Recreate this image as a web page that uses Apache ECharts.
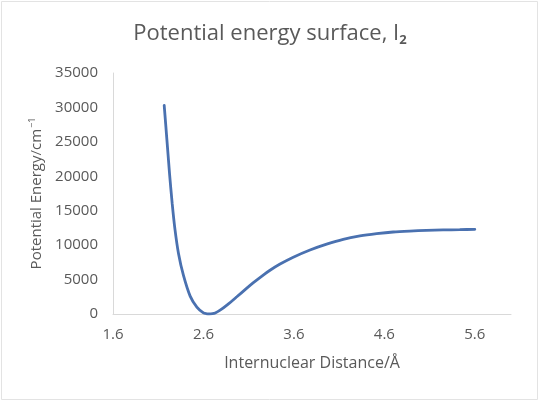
<!DOCTYPE html>
<html>
<head>
<meta charset="utf-8">
<script src="https://cdn.jsdelivr.net/npm/echarts@6/dist/echarts.min.js"></script>
<style>
html,body{margin:0;padding:0;background:#fff;}
#chart{width:540px;height:403px;}
</style>
</head>
<body>
<div id="chart"></div>
<script>
// Internuclear distance (Å)
var distance = [2.166, 2.196, 2.225, 2.254, 2.284, 2.324, 2.379, 2.453, 2.527, 2.6, 2.635, 2.666, 2.70, 2.73, 2.784, 2.87, 2.969, 3.07, 3.152, 3.25, 3.336, 3.447, 3.593, 3.778, 3.962, 4.145, 4.33, 4.514, 4.697, 4.88, 5.066, 5.249, 5.433, 5.6];
// Potential energy (cm^-1)
var energy = [30300, 25300, 20400, 16100, 12400, 8800, 5600, 2600, 1000, 150, 30, 0, 40, 150, 550, 1400, 2500, 3650, 4550, 5550, 6350, 7250, 8250, 9300, 10150, 10850, 11330, 11660, 11910, 12050, 12150, 12210, 12250, 12300];
var xTicks = [1.6, 2.6, 3.6, 4.6, 5.6];
var yTicks = [0, 5000, 10000, 15000, 20000, 25000, 30000, 35000];

var FONT = 'Open Sans';
var TXT = '#595959';

var chart = echarts.init(document.getElementById('chart'), null, {renderer: 'canvas'});
chart.setOption({
  backgroundColor: '#ffffff',
  animation: false,
  graphic: [{
    type: 'rect',
    shape: {x: 1.5, y: 1.5, width: 536, height: 398},
    style: {fill: 'none', stroke: '#e3e3e3', lineWidth: 1},
    silent: true
  }],
  title: {
    text: '{a|Potential energy surface, I}{s|2}',
    left: 'center',
    top: 16,
    textStyle: {
      rich: {
        a: {fontFamily: FONT, fontSize: 22, color: TXT, fontWeight: 'normal'},
        s: {fontFamily: FONT, fontSize: 13, color: TXT, verticalAlign: 'bottom', padding: [13, 0, 0, 0]}
      }
    }
  },
  grid: {left: 113, right: 29, top: 73, bottom: 89, containLabel: false},
  xAxis: {
    type: 'value',
    min: 1.6,
    max: 6.0,
    name: 'Internuclear Distance/Å',
    nameLocation: 'middle',
    nameGap: 41,
    nameTextStyle: {fontFamily: FONT, fontSize: 16, color: TXT},
    axisLine: {show: true, lineStyle: {color: '#d9d9d9', width: 1}},
    axisTick: {show: false},
    splitLine: {show: false},
    axisLabel: {
      customValues: xTicks,
      fontFamily: FONT, fontSize: 15, color: TXT, margin: 13,
      formatter: function (v) { return v.toFixed(1); }
    }
  },
  yAxis: {
    type: 'value',
    min: 0,
    max: 35000,
    interval: 5000,
    name: '{a|Potential Energy/cm}{s|−1}',
    nameLocation: 'middle',
    nameGap: 65,
    nameTextStyle: {
      rich: {
        a: {fontFamily: FONT, fontSize: 15, color: TXT},
        s: {fontFamily: FONT, fontSize: 9, color: TXT, verticalAlign: 'top', padding: [0, 0, 8, 1]}
      }
    },
    axisLine: {show: true, lineStyle: {color: '#d9d9d9', width: 1}},
    axisTick: {show: false},
    splitLine: {show: false},
    axisLabel: {
      customValues: yTicks,
      fontFamily: FONT, fontSize: 15, color: TXT, margin: 15,
      formatter: function (v) { return String(v); }
    }
  },
  series: [{
    type: 'line',
    data: distance.map(function (d, i) { return [d, energy[i]]; }),
    smooth: 0.25,
    showSymbol: false,
    symbol: 'none',
    lineStyle: {color: '#4a71b0', width: 2.8, cap: 'round'}
  }]
});
</script>
</body>
</html>
